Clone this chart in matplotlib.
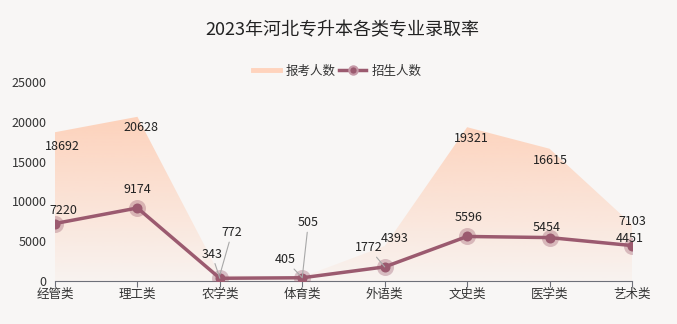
import numpy as np
import matplotlib
matplotlib.use('Agg')
import matplotlib.pyplot as plt
from matplotlib.patches import Polygon
from matplotlib.lines import Line2D

plt.rcParams['font.family'] = ['Noto Sans CJK SC', 'DejaVu Sans']

categories = ['经管类', '理工类', '农学类', '体育类', '外语类', '文史类', '医学类', '艺术类']
applicants = [18692, 20628, 772, 505, 4393, 19321, 16615, 7103]
admitted = [7220, 9174, 343, 405, 1772, 5596, 5454, 4451]

# label offsets in pixels (dx, dy), and whether a leader line is drawn
applicant_offsets = [(7, -14), (4, -11), (12, 42), (6, 54), (10, 8), (4, -11), (1, -12), (0, 3)]
applicant_leader = [False, False, True, True, False, False, False, False]
admitted_offsets = [(8, 13), (0, 18), (-8, 24), (-17, 18), (-16, 19), (1, 19), (-3, 10), (-2, 7)]
admitted_leader = [False, False, True, True, True, False, False, False]

bg = '#f8f6f5'
line_color = '#9b5a6f'
area_color = '#ffc6a8'

fig = plt.figure(figsize=(6.77, 3.24), dpi=100, facecolor=bg)
ax = fig.add_axes([55 / 677, 1 - 281 / 324, 577 / 677, 199 / 324])
ax.set_facecolor(bg)

x = np.arange(len(categories))

# gradient filled area for applicants
top = max(applicants)
grad = np.zeros((256, 1, 4))
grad[:, 0, 0:3] = matplotlib.colors.to_rgb(area_color)
grad[:, 0, 3] = np.linspace(0.75, 0.07, 256)
verts = [(0, 0)] + list(zip(x, applicants)) + [(x[-1], 0)]
poly = Polygon(verts, closed=True, facecolor='none', edgecolor='none')
ax.add_patch(poly)
img = ax.imshow(grad, extent=[0, len(x) - 1, 0, top], aspect='auto', origin='upper', zorder=1)
img.set_clip_path(poly)

# admitted line with halo markers
ax.plot(x, admitted, color=line_color, lw=2.5, zorder=3)
ax.scatter(x, admitted, s=150, color=line_color, alpha=0.35, lw=0, zorder=4)
ax.scatter(x, admitted, s=52, color=line_color, lw=0, zorder=5)

def put_labels(values, offsets, leaders):
    for i, v in enumerate(values):
        dx, dy = offsets[i]
        props = None
        if leaders[i]:
            props = dict(arrowstyle='-', color='#a8a8a8', lw=0.8, shrinkA=0, shrinkB=0)
        ax.annotate(str(v), (x[i], v), xytext=(dx, dy), textcoords='offset pixels',
                    ha='center', va='center', fontsize=9, color='#222222',
                    arrowprops=props, zorder=6)

put_labels(applicants, applicant_offsets, applicant_leader)
put_labels(admitted, admitted_offsets, admitted_leader)

ax.set_xlim(0, len(x) - 1)
ax.set_ylim(0, 25000)
ax.set_xticks(x)
ax.set_xticklabels(categories, fontsize=9, color='#333333')
ax.set_yticks([0, 5000, 10000, 15000, 20000, 25000])
ax.tick_params(axis='y', length=0, pad=6, labelsize=9, labelcolor='#333333')
ax.tick_params(axis='x', length=4, color='#6e7079', pad=1)
for s in ['left', 'top', 'right']:
    ax.spines[s].set_visible(False)
ax.spines['bottom'].set_color('#6e7079')

fig.text(342 / 677, 1 - 30 / 324, '2023年河北专升本各类专业录取率', ha='center', va='center',
         fontsize=13, color='#222222')

handles = [
    Line2D([], [], color='#ffd3bd', lw=3.5),
    Line2D([], [], color=line_color, lw=2.5, marker='o', markersize=6,
           markeredgecolor='#c69aa8', markeredgewidth=1.5),
]
fig.legend(handles, ['报考人数', '招生人数'], loc='center', bbox_to_anchor=(337 / 677, 1 - 71 / 324),
           ncol=2, frameon=False, fontsize=9, handlelength=2.2, handletextpad=0.4,
           columnspacing=0.3, labelcolor='#333333')

fig.savefig('out.png', dpi=100, facecolor=bg)
